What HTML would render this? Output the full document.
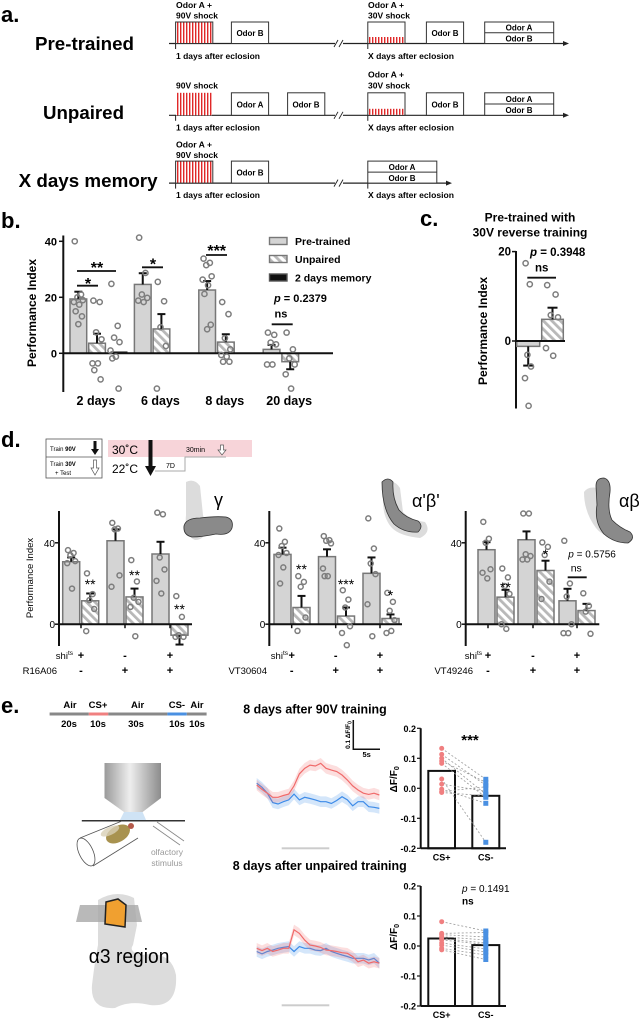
<!DOCTYPE html>
<html><head><meta charset="utf-8"><title>Figure</title>
<style>
html,body{margin:0;padding:0;background:#fff;}
svg{display:block;font-family:"Liberation Sans",Arial,sans-serif;}
.b{font-weight:bold;}
</style></head>
<body>
<svg id="figure" xmlns="http://www.w3.org/2000/svg" width="643" height="1019" viewBox="0 0 643 1019">
<defs>
<pattern id="redstripe" patternUnits="userSpaceOnUse" width="3" height="10"><rect width="3" height="10" fill="#fff"/><rect width="1.4" height="10" fill="#e02828"/></pattern>
<pattern id="hatch" patternUnits="userSpaceOnUse" width="6" height="6" patternTransform="rotate(-45)"><rect width="6" height="6" fill="#fff"/><rect width="2.8" height="6" fill="#b8b8b8"/></pattern>
<linearGradient id="objgrad" x1="0" x2="1" y1="0" y2="0"><stop offset="0" stop-color="#9a9a9a"/><stop offset="0.45" stop-color="#eeeeee"/><stop offset="1" stop-color="#8c8c8c"/></linearGradient>
</defs>

<!-- ===== Panel a ===== -->
<g font-weight="bold">
<text x="1" y="22" font-size="22">a.</text>
<g>
<text x="35" y="50" font-size="18" textLength="99" lengthAdjust="spacingAndGlyphs">Pre-trained</text>
<line x1="169" y1="43.5" x2="563" y2="43.5" stroke="#222" stroke-width="1.2"/>
<polygon points="563,41 569,43.5 563,46" fill="#222"/>
<rect x="335" y="40" width="8" height="7" fill="#fff"/>
<line x1="334" y1="47" x2="338" y2="40" stroke="#222" stroke-width="0.9"/>
<line x1="339" y1="47" x2="343" y2="40" stroke="#222" stroke-width="0.9"/>
<line x1="175.6" y1="43.5" x2="175.6" y2="49" stroke="#222"/>
<line x1="367.8" y1="43.5" x2="367.8" y2="49" stroke="#222"/>
<text x="176" y="8" font-size="8.5" textLength="36" lengthAdjust="spacingAndGlyphs">Odor A +</text>
<text x="176" y="18.5" font-size="8.5" textLength="42" lengthAdjust="spacingAndGlyphs">90V shock</text>
<rect x="175.6" y="22" width="37.2" height="21.5" fill="url(#redstripe)" stroke="#333" stroke-width="1"/>
<rect x="231.4" y="22" width="37.2" height="21.5" fill="#fff" stroke="#333" stroke-width="1"/>
<text x="250" y="36" font-size="8" text-anchor="middle">Odor B</text>
<text x="368" y="8" font-size="8.5" textLength="36" lengthAdjust="spacingAndGlyphs">Odor A +</text>
<text x="368" y="18.5" font-size="8.5" textLength="42" lengthAdjust="spacingAndGlyphs">30V shock</text>
<rect x="367.8" y="22" width="37.2" height="21.5" fill="#fff" stroke="#333" stroke-width="1"/>
<rect x="369" y="37" width="35" height="6" fill="url(#redstripe)"/>
<rect x="426.4" y="22" width="37.2" height="21.5" fill="#fff" stroke="#333" stroke-width="1"/>
<text x="445" y="36" font-size="8" text-anchor="middle">Odor B</text>
<rect x="484.7" y="22" width="69" height="21.5" fill="#fff" stroke="#333" stroke-width="1"/>
<line x1="484.7" y1="32.7" x2="553.7" y2="32.7" stroke="#333"/>
<text x="519" y="30.5" font-size="8" text-anchor="middle">Odor A</text>
<text x="519" y="41.3" font-size="8" text-anchor="middle">Odor B</text>
<text x="176" y="59" font-size="8.5" textLength="84" lengthAdjust="spacingAndGlyphs">1 days after eclosion</text>
<text x="368" y="59" font-size="8.5" textLength="86" lengthAdjust="spacingAndGlyphs">X days after eclosion</text>
</g>
<g transform="translate(0,71.8)">
<text x="43" y="47" font-size="18" textLength="81" lengthAdjust="spacingAndGlyphs">Unpaired</text>
<line x1="169" y1="43.5" x2="563" y2="43.5" stroke="#222" stroke-width="1.2"/>
<polygon points="563,41 569,43.5 563,46" fill="#222"/>
<rect x="335" y="40" width="8" height="7" fill="#fff"/>
<line x1="334" y1="47" x2="338" y2="40" stroke="#222" stroke-width="0.9"/>
<line x1="339" y1="47" x2="343" y2="40" stroke="#222" stroke-width="0.9"/>
<line x1="175.6" y1="43.5" x2="175.6" y2="49" stroke="#222"/>
<line x1="367.8" y1="43.5" x2="367.8" y2="49" stroke="#222"/>
<text x="176" y="16.5" font-size="8.5" textLength="42" lengthAdjust="spacingAndGlyphs">90V shock</text>
<rect x="176" y="21" width="36" height="22.5" fill="url(#redstripe)"/>
<rect x="231.4" y="21" width="37.2" height="22.5" fill="#fff" stroke="#333" stroke-width="1"/>
<text x="250" y="35.5" font-size="8" text-anchor="middle">Odor A</text>
<rect x="287.6" y="21" width="37.2" height="22.5" fill="#fff" stroke="#333" stroke-width="1"/>
<text x="306" y="35.5" font-size="8" text-anchor="middle">Odor B</text>
<text x="368" y="5.5" font-size="8.5" textLength="36" lengthAdjust="spacingAndGlyphs">Odor A +</text>
<text x="368" y="16.5" font-size="8.5" textLength="42" lengthAdjust="spacingAndGlyphs">30V shock</text>
<rect x="367.8" y="21" width="37.2" height="22.5" fill="#fff" stroke="#333" stroke-width="1"/>
<rect x="369" y="37" width="35" height="6" fill="url(#redstripe)"/>
<rect x="426.4" y="21" width="37.2" height="22.5" fill="#fff" stroke="#333" stroke-width="1"/>
<text x="445" y="35.5" font-size="8" text-anchor="middle">Odor B</text>
<rect x="484.7" y="21" width="69" height="22.5" fill="#fff" stroke="#333" stroke-width="1"/>
<line x1="484.7" y1="32.2" x2="553.7" y2="32.2" stroke="#333"/>
<text x="519" y="30" font-size="8" text-anchor="middle">Odor A</text>
<text x="519" y="41" font-size="8" text-anchor="middle">Odor B</text>
<text x="176" y="58.5" font-size="8.5" textLength="84" lengthAdjust="spacingAndGlyphs">1 days after eclosion</text>
<text x="368" y="58.5" font-size="8.5" textLength="86" lengthAdjust="spacingAndGlyphs">X days after eclosion</text>
</g>
<g transform="translate(0,139.6)">
<text x="18.6" y="47.5" font-size="18" textLength="139" lengthAdjust="spacingAndGlyphs">X days memory</text>
<line x1="169" y1="43.5" x2="446" y2="43.5" stroke="#222" stroke-width="1.2"/>
<polygon points="446,41 452,43.5 446,46" fill="#222"/>
<rect x="335" y="40" width="8" height="7" fill="#fff"/>
<line x1="334" y1="47" x2="338" y2="40" stroke="#222" stroke-width="0.9"/>
<line x1="339" y1="47" x2="343" y2="40" stroke="#222" stroke-width="0.9"/>
<line x1="175.6" y1="43.5" x2="175.6" y2="49" stroke="#222"/>
<line x1="367.8" y1="43.5" x2="367.8" y2="49" stroke="#222"/>
<text x="176" y="8" font-size="8.5" textLength="36" lengthAdjust="spacingAndGlyphs">Odor A +</text>
<text x="176" y="18.5" font-size="8.5" textLength="42" lengthAdjust="spacingAndGlyphs">90V shock</text>
<rect x="175.6" y="21.5" width="37.2" height="22" fill="url(#redstripe)" stroke="#333" stroke-width="1"/>
<rect x="231.4" y="21.5" width="37.2" height="22" fill="#fff" stroke="#333" stroke-width="1"/>
<text x="250" y="36" font-size="8" text-anchor="middle">Odor B</text>
<rect x="367.8" y="21.5" width="69" height="22" fill="#fff" stroke="#333" stroke-width="1"/>
<line x1="367.8" y1="32.5" x2="436.8" y2="32.5" stroke="#333"/>
<text x="402" y="30.3" font-size="8" text-anchor="middle">Odor A</text>
<text x="402" y="41.2" font-size="8" text-anchor="middle">Odor B</text>
<text x="176" y="58.5" font-size="8.5" textLength="84" lengthAdjust="spacingAndGlyphs">1 days after eclosion</text>
<text x="368" y="58.5" font-size="8.5" textLength="86" lengthAdjust="spacingAndGlyphs">X days after eclosion</text>
</g>
</g>

<!-- ===== Panel b static ===== -->
<g id="panelB" font-weight="bold">
<text x="1" y="228" font-size="22">b.</text>
<text transform="translate(36,313) rotate(-90)" font-size="12" text-anchor="middle">Performance Index</text>
<line x1="77" y1="285.7" x2="98" y2="285.7" stroke="#111" stroke-width="1.8"/>
<text x="88" y="289" font-size="16" text-anchor="middle">*</text>
<line x1="77" y1="271" x2="116" y2="271" stroke="#111" stroke-width="1.8"/>
<text x="97" y="273" font-size="16" text-anchor="middle">**</text>
<line x1="142" y1="267.3" x2="163" y2="267.3" stroke="#111" stroke-width="1.8"/>
<text x="153" y="269.5" font-size="16" text-anchor="middle">*</text>
<line x1="206" y1="255" x2="227" y2="255" stroke="#111" stroke-width="1.8"/>
<text x="216.7" y="256" font-size="16" text-anchor="middle">***</text>
<text x="274" y="302" font-size="11"><tspan font-style="italic">p</tspan> = 0.2379</text>
<text x="274.5" y="317.5" font-size="11">ns</text>
<line x1="271.7" y1="324.3" x2="292.7" y2="324.3" stroke="#111" stroke-width="1.8"/>
<rect x="269.5" y="237.5" width="17.5" height="7" fill="#d4d4d4" stroke="#777" stroke-width="1.4"/>
<text x="295" y="245" font-size="10.5">Pre-trained</text>
<rect x="269.5" y="255.5" width="17.5" height="7" fill="url(#hatch)" stroke="#777" stroke-width="1.4"/>
<text x="295" y="263" font-size="10.5">Unpaired</text>
<rect x="269.5" y="274" width="17.5" height="7" fill="#111" stroke="#555" stroke-width="1.4"/>
<text x="295" y="281.5" font-size="10.5">2 days memory</text>
</g>

<!-- ===== Panel c static ===== -->
<g id="panelC" font-weight="bold">
<text x="420" y="226" font-size="22">c.</text>
<text x="530" y="221.5" font-size="12" text-anchor="middle">Pre-trained with</text>
<text x="530" y="236.5" font-size="12" text-anchor="middle">30V reverse training</text>
<text transform="translate(487,331) rotate(-90)" font-size="12" text-anchor="middle">Performance Index</text>
<text x="530" y="256" font-size="11.5"><tspan font-style="italic">p</tspan> = 0.3948</text>
<text x="535" y="271.5" font-size="11.5">ns</text>
<line x1="527.3" y1="277.7" x2="556" y2="277.7" stroke="#111" stroke-width="1.8"/>
</g>

<!-- ===== Panel d static ===== -->
<g id="panelD">
<text x="1" y="447" font-size="22" font-weight="bold">d.</text>
<g>
<rect x="46" y="439" width="56" height="39" fill="#fff" stroke="#555" stroke-width="0.8"/>
<line x1="46" y1="457" x2="102" y2="457" stroke="#555" stroke-width="0.8"/>
<text x="50" y="451" font-size="6">Train <tspan font-weight="bold">90V</tspan></text>
<polygon points="93.5,441 96.5,441 96.5,449 99,449 95,455 91,449 93.5,449" fill="#111"/>
<text x="50" y="466" font-size="6">Train <tspan font-weight="bold">30V</tspan></text>
<text x="55" y="475" font-size="6">+ Test</text>
<polygon points="93.5,460 96.5,460 96.5,468 99,468 95,475 91,468 93.5,468" fill="#fff" stroke="#555" stroke-width="0.7"/>
<rect x="108" y="440" width="144" height="17" fill="#f7d4d9"/>
<text x="112" y="454" font-size="12">30˚C</text>
<text x="112" y="473" font-size="12">22˚C</text>
<polygon points="148.5,440 152.5,440 152.5,466 156,466 150.5,476 145,466 148.5,466" fill="#111"/>
<polyline points="155,471 185,471 185,457 226,457" fill="none" stroke="#aaa" stroke-width="1"/>
<text x="166" y="468" font-size="7">7D</text>
<text x="186" y="452" font-size="7">30min</text>
<polygon points="220.5,445 223.5,445 223.5,450 226,450 222,455 218,450 220.5,450" fill="#fff" stroke="#555" stroke-width="0.7"/>
</g>
<g>
<path d="M186,482 Q194,478 200,486 L203,515 Q210,540 195,540 Q184,536 186,515 Z" fill="#dcdcdc"/>
<path d="M184,526 Q186,518 200,518 Q215,516 226,517 Q234,519 232,528 Q229,536 216,534 Q202,537 192,537 Q183,535 184,526 Z" fill="#8a8a8a" stroke="#333" stroke-width="0.8"/>
<text x="214" y="506" font-size="18">γ</text>
</g>
<g>
<path d="M384,488 Q392,476 400,488 L403,512 Q410,520 425,522 Q432,532 420,538 Q400,536 392,528 Q380,515 384,488 Z" fill="#dcdcdc"/>
<path d="M382,482 Q388,476 393,482 Q392,498 399,510 Q406,518 418,521 Q424,526 418,532 Q404,533 394,524 Q382,510 382,482 Z" fill="#8a8a8a" stroke="#333" stroke-width="0.8"/>
<text x="412" y="507" font-size="18">α'β'</text>
</g>
<g>
<path d="M584,492 Q588,486 598,488 L600,515 Q610,528 628,530 Q634,540 622,540 Q604,538 596,528 Q584,512 584,492 Z" fill="#dcdcdc"/>
<path d="M596,486 Q596,478 604,478 Q611,480 610,492 Q607,510 612,520 Q620,528 630,532 Q636,538 628,543 Q614,543 604,534 Q594,522 597,505 Z" fill="#8a8a8a" stroke="#333" stroke-width="0.8"/>
<text x="619" y="507" font-size="18">αβ</text>
</g>
<text x="568.3" y="557.3" font-size="10"><tspan font-style="italic">p</tspan> = 0.5756</text>
<text x="570.7" y="571.7" font-size="10.5">ns</text>
<line x1="567.7" y1="577.3" x2="586.7" y2="577.3" stroke="#111" stroke-width="1.8"/>
</g>

<!-- ===== Panel e static ===== -->
<g id="panelE">
<text x="1" y="713" font-size="22" font-weight="bold">e.</text>
<g font-weight="bold" font-size="9.5" text-anchor="middle">
<rect x="49.6" y="712.5" width="39.2" height="3" fill="#888"/>
<rect x="88.8" y="712.5" width="19.5" height="3" fill="#f08080"/>
<rect x="108.3" y="712.5" width="59.1" height="3" fill="#888"/>
<rect x="167.4" y="712.5" width="19.4" height="3" fill="#4a90e2"/>
<rect x="186.8" y="712.5" width="19.8" height="3" fill="#888"/>
<text x="70" y="708">Air</text>
<text x="98" y="708">CS+</text>
<text x="137.6" y="708">Air</text>
<text x="176.9" y="708">CS-</text>
<text x="197" y="708">Air</text>
<text x="69" y="727">20s</text>
<text x="98" y="727">10s</text>
<text x="136" y="727">30s</text>
<text x="177" y="727">10s</text>
<text x="197" y="727">10s</text>
</g>
<g>
<rect x="104.5" y="763" width="56.5" height="35" fill="url(#objgrad)"/>
<polygon points="104.5,798 161,798 142.6,812 124,812" fill="url(#objgrad)"/>
<polygon points="124,812 142.6,812 146,820 120,820" fill="#cfe3f5"/>
<line x1="81.8" y1="820.7" x2="185" y2="820.7" stroke="#333" stroke-width="1.5"/>
<line x1="80" y1="838" x2="122" y2="821" stroke="#555" stroke-width="0.8"/>
<line x1="93" y1="866" x2="138" y2="838" stroke="#555" stroke-width="0.8"/>
<ellipse cx="86" cy="852" rx="7" ry="15" transform="rotate(-25 86 852)" fill="#fff" stroke="#555" stroke-width="0.8"/>
<ellipse cx="118" cy="834" rx="13" ry="8" transform="rotate(-30 118 834)" fill="#a8924f"/>
<ellipse cx="110" cy="831" rx="10" ry="4" transform="rotate(-25 110 831)" fill="#d8cfb5" opacity="0.8"/>
<circle cx="131" cy="826" r="3" fill="#b45a4a"/>
<line x1="153" y1="826" x2="180" y2="845" stroke="#888" stroke-width="0.8"/>
<line x1="157" y1="822" x2="184" y2="841" stroke="#888" stroke-width="0.8"/>
<text x="167" y="855" font-size="8.5" fill="#999" text-anchor="middle">olfactory</text>
<text x="167" y="866" font-size="8.5" fill="#999" text-anchor="middle">stimulus</text>
</g>
<g>
<path d="M98,900 Q116,889 134,898 L137,925 L133,945 Q128,952 142,955 Q171,950 176,975 Q178,1008 150,1005 Q130,1000 115,1008 Q90,1010 92,985 Q95,960 98,945 Z" fill="#dcdcdc"/>
<polygon points="80,905 138,905 142,922 76,922" fill="#a8a8a8" opacity="0.8"/>
<polygon points="106,902 118,899 126,905 125,927 105,924" fill="#f0a030" stroke="#222" stroke-width="1.5"/>
<text x="88.8" y="963" font-size="20" textLength="80.6" lengthAdjust="spacingAndGlyphs">α3 region</text>
</g>
<text x="243.3" y="713.3" font-size="13" font-weight="bold" textLength="143.4" lengthAdjust="spacingAndGlyphs">8 days after 90V training</text>
<text x="232.7" y="870" font-size="13" font-weight="bold" textLength="174" lengthAdjust="spacingAndGlyphs">8 days after unpaired training</text>
<polyline points="353.3,720 353.3,749.3 380,749.3" fill="none" stroke="#111" stroke-width="1.5"/>
<text transform="translate(350,735) rotate(-90)" font-size="6.5" font-weight="bold" text-anchor="middle">0.1 ΔF/F<tspan font-size="5" dy="1.5">0</tspan></text>
<text x="366.7" y="757" font-size="7.5" font-weight="bold" text-anchor="middle">5s</text>
<rect x="281.7" y="847.3" width="47.6" height="2" fill="#cccccc"/>
<rect x="281.7" y="1004.3" width="47.6" height="2" fill="#cccccc"/>
<text x="470" y="745" font-size="15" font-weight="bold" text-anchor="middle">***</text>
<text x="462" y="892" font-size="10"><tspan font-style="italic">p</tspan> = 0.1491</text>
<text x="462" y="904.5" font-size="10" font-weight="bold">ns</text>
</g>
</svg>

<script>
const NS='http://www.w3.org/2000/svg';
const svg=document.getElementById('figure');
function mk(tag,attrs,parent){const e=document.createElementNS(NS,tag);for(const k in attrs)e.setAttribute(k,attrs[k]);(parent||svg).appendChild(e);return e;}
function txt(s,attrs,parent){const e=mk('text',attrs,parent);e.textContent=s;return e;}

/* ---------- Panel b data ---------- */
const bCategories=['2 days','6 days','8 days','20 days'];
const bPreMeans=[19.4,24.6,22.6,1.4];
const bPreSem=[2.6,4.0,3.2,1.6];
const bUnpMeans=[3.6,8.7,4.0,-3.0];
const bUnpSem=[3.4,5.3,2.8,2.7];
const bMemMeans=[0.5];
const bPreDots=[[40,21,20,19,18.3,17.4,15,13.2,10.4],[41.3,28.7,21,19.8,18.8,18.3],[33.8,32.3,31.5,27.5,26.3,24.3,21.2,10.2,8.6],[7.4,6.6,3.8,3.2,-4,-4]];
const bUnpDots=[[18.8,18.3,7.5,5,-3.6,-3.6,-6,-9.3],[25.5,18.6,9.3,2.6,-12.6],[18.3,14,5.4,1.4,-0.6,-1.2,-3,-3],[7.4,1.4,-1.8,-4,-7.5,-12.6]];
const bMemDots=[[24.8,9.8,5.6,4,1,-1.2,-1.8,-12.6]];
const bYTicks=[0,20,40];

/* ---------- Panel c data ---------- */
const cCategories=['Pre-trained','Unpaired'];
const cMeans=[-1.2,4.85];
const cSem=[4.3,2.6];
const cPreDots=[17.4,12.7,-3.1,-5.7,-8.3,-14.5];
const cUnpDots=[12.5,10.4,5.8,5.3,-1.6,-3.3];
const cYTicks=[0,20];

/* ---------- Panel d data ---------- */
const dDrivers=['R16A06','VT30604','VT49246'];
const dShiSigns=['+','-','+'];
const dDriverSigns=['-','+','+'];
const dPreMeans=[[30.7,41,34.5],[34.3,33.2,25],[36.6,41.5,11.5]];
const dPreSem=[[2.1,5.6,6],[3.3,3.6,7.8],[3.7,4.1,5.9]];
const dHatMeans=[[11.5,13.4,-5.4],[8.2,4,2.8],[13.3,26.4,6.7]];
const dHatSem=[[3.6,4.1,4.6],[5.7,4.2,2],[3.6,4.8,3.3]];
const dPreDots=[
 [[36.4,35,33.9,31,30,17.5],[49.8,47,46.6,24,18.4],[54.8,54,32.8,26.9,21.3,15.1]],
 [[47,40.5,38.4,35,34,27.9,20],[43.3,41.3,41,39.7,27.4,23.6,23.6],[52,37.2,29.8,24.6,9.8,-5.9]],
 [[50.3,42,40,27,25.3,22.5],[54.4,54.4,34.4,33.5,31.8,31.8],[41,20,13.6,0,-4.4,-4.4]]];
const dHatDots=[
 [[25,14.8,11.8,7.5,-3.4],[31.5,21,13,11,8.5,-5.9],[13.8,3.6,-5.4,-6.2,-6.2]],
 [[23.6,20.8,18.4,3.3,-3.3],[16.7,12.1,8.2,-1,-4.3,-10.3],[15.4,11,6.6,2,-4.3,-3.3]],
 [[27.4,23,18.8,14.9,0,-2.3],[40.2,38,34,20.9,12.4],[15.2,9,6.2,-4.7]]];
const dStars=[['**','**','**'],['**','***','*'],['**','*','']];
const dYTicks=[0,40];

/* ---------- Panel e data ---------- */
const eTime=[0,1,2,3,4,5,6,7,8,9,10,11,12,13,14,15,16,17,18,19,20,21,22,23];
const eTopRed=[0,-0.015,-0.028,-0.042,-0.042,-0.036,-0.031,-0.003,0.038,0.057,0.068,0.065,0.074,0.057,0.051,0.046,0.034,0.017,-0.003,-0.017,-0.028,-0.032,-0.028,-0.034];
const eTopBlue=[0.006,-0.008,-0.028,-0.06,-0.065,-0.057,-0.051,-0.031,-0.051,-0.042,-0.046,-0.051,-0.057,-0.057,-0.063,-0.053,-0.04,-0.051,-0.071,-0.057,-0.057,-0.074,-0.076,-0.08];
const eBotRed=[0,-0.008,0,-0.011,-0.006,0,0,0.063,0.051,0.028,0.011,0.008,0.003,-0.006,-0.008,-0.011,-0.015,-0.017,-0.028,-0.046,-0.04,-0.051,-0.046,-0.051];
const eBotBlue=[-0.011,-0.019,-0.011,-0.006,0,0.003,0.006,-0.011,0.006,0,0,-0.006,-0.008,0,-0.011,-0.017,-0.023,-0.028,-0.034,-0.034,-0.034,-0.04,-0.034,-0.051];
const eSemBand=[0.018];
const eCats=['CS+','CS-'];
const eTopMeans=[0.058,-0.025];
const eBotMeans=[0.025,0.003];
const eTopCSplus=[0.133,0.113,0.1,0.091,0.083,0.031,0.014,-0.003,-0.011,-0.014];
const eTopCSminus=[0.03,0.01,-0.02,0.02,-0.03,-0.18,-0.01,-0.05,0.005,-0.025];
const eBotCSplus=[0.081,0.042,0.038,0.031,0.025,0.02,0.01,0.003,-0.008,-0.013];
const eBotCSminus=[0.05,0.045,0.03,0.02,0.01,0.005,-0.01,-0.02,-0.03,-0.045];
const eYTicks=[0.2,0.1,0,-0.1,-0.2];
const eYTickLabels=['0.2','0.1','0.0','-0.1','-0.2'];

/* ---------- helpers ---------- */
const JIT=[-4,3,-1,5,-5,1,-3,4,0,-2];
function drawBar(g,x,w,v,yf,fill,stroke,sw){
  const y0=yf(0),y1=yf(v);
  return mk('rect',{x:x,y:Math.min(y0,y1),width:w,height:Math.max(Math.abs(y1-y0),0.8),fill:fill,stroke:stroke,'stroke-width':sw},g);
}
function drawErr(g,cx,v,e,yf,cap){
  const end=v>=0?v+e:v-e;
  const grp=mk('g',{},g);
  mk('line',{x1:cx,y1:yf(v),x2:cx,y2:yf(end),stroke:'#111','stroke-width':2},grp);
  mk('line',{x1:cx-cap,y1:yf(end),x2:cx+cap,y2:yf(end),stroke:'#111','stroke-width':2},grp);
  return grp;
}
function drawDots(g,cx,arr,yf,spread,r){
  const out=[];
  arr.forEach((v,i)=>{
    const c=mk('circle',{cx:cx+JIT[i%JIT.length]*spread,cy:yf(v),r:r,fill:'none',stroke:'#7d7d7d','stroke-width':1.5},g);
    out.push(c);
  });
  return out;
}

/* ---------- Panel b ---------- */
(function(){
  const g=document.getElementById('panelB');
  const yB=v=>353.3-v*2.8;
  const xB=i=>70+i*64.4;
  const axis=mk('line',{x1:63.3,y1:235.5,x2:63.3,y2:392,stroke:'#111','stroke-width':2},g);
  
  
  bYTicks.forEach(t=>{
    const tk=mk('line',{x1:59,y1:yB(t),x2:63.3,y2:yB(t),stroke:'#111','stroke-width':1.5},g);
    
    
    const tl=txt(String(t),{x:57,y:yB(t)+4,'font-size':11,'text-anchor':'end'},g);
    
    
  });
  bCategories.forEach((c,i)=>{
    const gx=xB(i);
    const pb=drawBar(g,gx,16.7,bPreMeans[i],yB,'#d4d4d4','#777',1.5);
    
    
    const ub=drawBar(g,gx+18.7,16.7,bUnpMeans[i],yB,'url(#hatch)','#777',1.5);
    
    
    const pe=drawErr(g,gx+8.35,bPreMeans[i],bPreSem[i],yB,4);
    
    
    const ue=drawErr(g,gx+27,bUnpMeans[i],bUnpSem[i],yB,4);
    
    
    if(i<bMemMeans.length){
      const mb=drawBar(g,gx+41,16,bMemMeans[i],yB,'#111','#333',1);
      
      
    }
    const lb=txt(c,{x:gx+26,y:405,'font-size':12.5,'text-anchor':'middle'},g);
    
    
  });
  const xa=mk('line',{x1:63.3,y1:yB(0),x2:333,y2:yB(0),stroke:'#111','stroke-width':2},g);
  
  
  bCategories.forEach((c,i)=>{
    const gx=xB(i);
    drawDots(g,gx+8.35,bPreDots[i],yB,0.9,2.6).forEach(d=>{
      
      
    });
    drawDots(g,gx+27,bUnpDots[i],yB,0.9,2.6).forEach(d=>{
      
      
    });
    if(i<bMemDots.length){
      drawDots(g,gx+45,bMemDots[i],yB,0.9,2.6).forEach(d=>{
        
        
      });
    }
  });
})();

/* ---------- Panel c ---------- */
(function(){
  const g=document.getElementById('panelC');
  const yC=v=>341-v*4.47;
  const ax=mk('line',{x1:516,y1:251,x2:516,y2:408.5,stroke:'#111','stroke-width':2},g);
  
  
  cYTicks.forEach(t=>{
    const tk=mk('line',{x1:512,y1:yC(t),x2:516,y2:yC(t),stroke:'#111','stroke-width':1.5},g);
    
    
    const tl=txt(String(t),{x:511,y:yC(t)+4,'font-size':11.5,'text-anchor':'end'},g);
    
    
  });
  const barX=[516.7,541.7], barW=[23,21.6];
  const fills=['#d4d4d4','url(#hatch)'];
  cCategories.forEach((c,i)=>{
    const b=drawBar(g,barX[i],barW[i],cMeans[i],yC,fills[i],'#777',1.5);
    
    
    const e=drawErr(g,barX[i]+barW[i]/2,cMeans[i],cSem[i],yC,5);
    
    
  });
  const xa=mk('line',{x1:516,y1:yC(0),x2:565,y2:yC(0),stroke:'#111','stroke-width':2},g);
  
  
  drawDots(g,528,cPreDots,yC,0.6,2.6).forEach(d=>{
    
    
  });
  drawDots(g,552,cUnpDots,yC,1.2,2.6).forEach(d=>{
    
    
  });
})();

/* ---------- Panel d ---------- */
(function(){
  const g=document.getElementById('panelD');
  const yD=v=>624.2-v*2.035;
  const axisX=[59,269.3,465.7];
  const axisEnd=[192,402,599.3];
  const pairLeft=[[62.7,107,152],[274,318.5,363],[478,518,559]];
  const signX=[[81,125,170],[291.7,335.7,380],[488,533,577]];
  const dStarY=[[589,580,614],[574,589,600],[592,559,0]];
  const shiRight=[73,288,482];
  const drvRight=[57,267,473];
  dDrivers.forEach((drv,s)=>{
    const sg=mk('g',{},g);
    
    
    const ax=mk('line',{x1:axisX[s],y1:511,x2:axisX[s],y2:646,stroke:'#111','stroke-width':2},sg);
    
    
    dYTicks.forEach(t=>{
      const tk=mk('line',{x1:axisX[s]-4,y1:yD(t),x2:axisX[s],y2:yD(t),stroke:'#111','stroke-width':1.5},sg);
      
      
      const tl=txt(String(t),{x:axisX[s]-4,y:yD(t)+4,'font-size':10,'text-anchor':'end'},sg);
      
      
    });
    for(let k=0;k<3;k++){
      const L=pairLeft[s][k];
      const pb=drawBar(sg,L,17,dPreMeans[s][k],yD,'#d4d4d4','#777',1.5);
      
      
      const hb=drawBar(sg,L+19,17,dHatMeans[s][k],yD,'url(#hatch)','#777',1.5);
      
      
      const pe=drawErr(sg,L+8.5,dPreMeans[s][k],dPreSem[s][k],yD,4);
      
      
      const he=drawErr(sg,L+27.5,dHatMeans[s][k],dHatSem[s][k],yD,4);
      
      
    }
    const xa=mk('line',{x1:axisX[s],y1:yD(0),x2:axisEnd[s],y2:yD(0),stroke:'#111','stroke-width':2},sg);
    
    
    for(let k=0;k<3;k++){
      const L=pairLeft[s][k];
      const tk=mk('line',{x1:signX[s][k],y1:yD(0),x2:signX[s][k],y2:yD(0)+4,stroke:'#111','stroke-width':1.5},sg);
      
      
      drawDots(sg,L+8.5,dPreDots[s][k],yD,0.8,2.5).forEach(d=>{
        
        
      });
      drawDots(sg,L+27.5,dHatDots[s][k],yD,0.8,2.5).forEach(d=>{
        
        
      });
      if(dStars[s][k]){
        const st=txt(dStars[s][k],{x:L+27.5,y:dStarY[s][k],'font-size':14,'text-anchor':'middle'},sg);
        
        
      }
      const s1=txt(dShiSigns[k],{x:signX[s][k],y:659,'font-size':11,'font-weight':'bold','text-anchor':'middle'},sg);
      
      
      const s2=txt(dDriverSigns[k],{x:signX[s][k],y:674,'font-size':11,'font-weight':'bold','text-anchor':'middle'},sg);
      
      
    }
    const shi=mk('text',{x:shiRight[s],y:659,'font-size':9.5,'text-anchor':'end'},sg);
    
    
    shi.appendChild(document.createTextNode('shi'));
    const sup=mk('tspan',{'font-size':6.5,dy:-4},shi);
    sup.textContent='ts';
    const dl=txt(drv,{x:drvRight[s],y:674,'font-size':9.5,'text-anchor':'end'},sg);
    
    
  });
  const yt=txt('Performance Index',{transform:'translate(33,578) rotate(-90)','font-size':9.5,'text-anchor':'middle'},g);
  
  
})();

/* ---------- Panel e ---------- */
(function(){
  const g=document.getElementById('panelE');
  const xT=t=>256.7+t*5.333;
  function trace(vals,baseY,color,band,name){
    const yv=v=>baseY-v*293;
    const up=eTime.map((t,i)=>xT(t)+','+yv(vals[i]+band).toFixed(1));
    const dn=eTime.map((t,i)=>xT(t)+','+yv(vals[i]-band).toFixed(1)).reverse();
    const poly=mk('polygon',{points:up.concat(dn).join(' '),fill:color,opacity:0.22},g);
    
    
    const line=mk('polyline',{points:eTime.map((t,i)=>xT(t)+','+yv(vals[i]).toFixed(1)).join(' '),fill:'none',stroke:color,'stroke-width':1.2},g);
    
    
  }
  trace(eTopBlue,785,'#3d8be8',eSemBand[0],'top-cs-minus');
  trace(eTopRed,785,'#f06a6a',eSemBand[0],'top-cs-plus');
  trace(eBotBlue,948.3,'#3d8be8',eSemBand[0],'bottom-cs-minus');
  trace(eBotRed,948.3,'#f06a6a',eSemBand[0],'bottom-cs-plus');

  function barChart(yZero,means,csp,csm,prefix){
    const yE=v=>yZero-v*300;
    const ax=mk('line',{x1:420.7,y1:yE(0.2),x2:420.7,y2:yE(-0.2),stroke:'#111','stroke-width':2},g);
    
    
    eYTicks.forEach((t,i)=>{
      const tk=mk('line',{x1:417,y1:yE(t),x2:420.7,y2:yE(t),stroke:'#111','stroke-width':1.2},g);
      
      
      const tl=txt(eYTickLabels[i],{x:416,y:yE(t)+3.5,'font-size':9,'font-weight':'bold','text-anchor':'end'},g);
      
      
    });
    const bx=[428.3,472.3], bw=[26.7,27];
    eCats.forEach((c,i)=>{
      const b=mk('rect',{x:bx[i],y:yE(means[i]),width:bw[i],height:yE(-0.2)-yE(means[i]),fill:'#fff',stroke:'#111','stroke-width':2},g);
      
      
      const l=txt(c,{x:bx[i]+bw[i]/2,y:yE(-0.2)+12,'font-size':9,'font-weight':'bold','text-anchor':'middle'},g);
      
      
    });
    const xa=mk('line',{x1:420.7,y1:yE(-0.2),x2:506,y2:yE(-0.2),stroke:'#111','stroke-width':2},g);
    
    
    csp.forEach((v,i)=>{
      const ln=mk('line',{x1:441.7,y1:yE(v),x2:485.8,y2:yE(csm[i]),stroke:'#999','stroke-width':0.8,'stroke-dasharray':'2,2'},g);
      
      
    });
    csp.forEach(v=>{
      const c=mk('circle',{cx:441.7,cy:yE(v),r:2.5,fill:'#f07f80'},g);
      
      
    });
    csm.forEach(v=>{
      const s=mk('rect',{x:483.3,y:yE(v)-2.5,width:5,height:5,fill:'#4a90e2'},g);
      
      
    });
    const yt=mk('text',{transform:'translate(397,'+yE(0.03)+') rotate(-90)','font-size':10,'font-weight':'bold','text-anchor':'middle'},g);
    
    
    yt.appendChild(document.createTextNode('ΔF/F'));
    const sub=mk('tspan',{'font-size':7,dy:2},yt);
    sub.textContent='0';
  }
  barChart(788.3,eTopMeans,eTopCSplus,eTopCSminus,'top-bars');
  barChart(946,eBotMeans,eBotCSplus,eBotCSminus,'bottom-bars');
})();
</script>
</body></html>
